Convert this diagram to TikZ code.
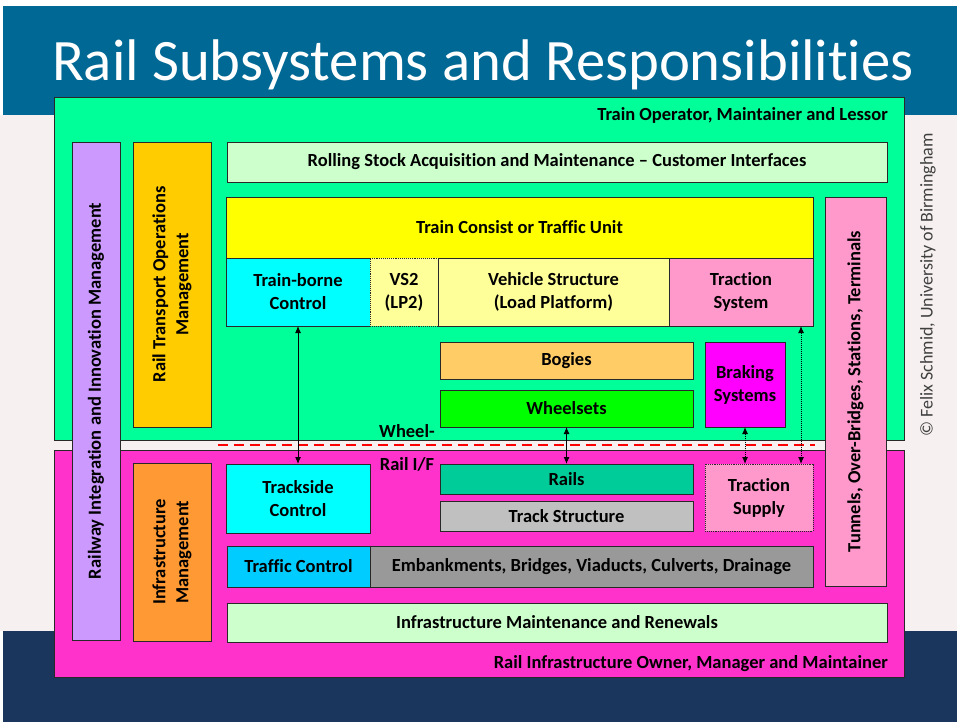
\documentclass[tikz,border=0pt]{standalone}
\usepackage{fontspec}
\setmainfont{Carlito}[Ligatures=NoCommon]
\usetikzlibrary{arrows.meta}
\definecolor{hdrblue}{RGB}{0,104,148}
\definecolor{navy}{RGB}{27,54,93}
\definecolor{bgpale}{RGB}{247,240,240}
\definecolor{opgreen}{RGB}{0,255,153}
\definecolor{infmag}{RGB}{255,51,204}
\definecolor{purp}{RGB}{204,153,255}
\definecolor{gold}{RGB}{255,204,0}
\definecolor{orng}{RGB}{255,153,51}
\definecolor{palegreen}{RGB}{204,255,204}
\definecolor{yel}{RGB}{255,255,0}
\definecolor{cyn}{RGB}{0,255,255}
\definecolor{paleyel}{RGB}{255,255,153}
\definecolor{pnk}{RGB}{255,153,204}
\definecolor{bogie}{RGB}{255,204,102}
\definecolor{brk}{RGB}{255,0,255}
\definecolor{whl}{RGB}{0,255,0}
\definecolor{rail}{RGB}{0,204,153}
\definecolor{trk}{RGB}{192,192,192}
\definecolor{trf}{RGB}{0,204,255}
\definecolor{emb}{RGB}{153,153,153}
\definecolor{edge}{RGB}{40,40,40}
\tikzset{
  box/.style={draw=edge, line width=0.9pt, anchor=north west, inner sep=0pt, outer sep=0pt,
    align=center, font=\fontsize{18.5}{23}\selectfont\bfseries, text=black},
  dotbox/.style={box, densely dotted},
  lbl/.style={font=\fontsize{18.5}{23}\selectfont\bfseries, text=black, inner sep=0pt},
  arr/.style={line width=1pt, {Latex[length=7pt,width=6pt]}-{Latex[length=7pt,width=6pt]}},
  darr/.style={arr, densely dotted}
}
\begin{document}
\begin{tikzpicture}[x=1pt,y=-1pt]
\useasboundingbox (0,0) rectangle (957,722);
% backgrounds
\fill[white] (0,0) rectangle (957,722);
\fill[bgpale] (0,115) rectangle (957,631);
\fill[hdrblue] (3,6) rectangle (957,115);
\fill[navy] (3,631) rectangle (957,722);
\node[text=white, font=\fontsize{58.7}{64}\selectfont, inner sep=0pt] (title) at (483,65) {Rail Subsystems and Responsibilities};
% outer areas
\node[box, fill=opgreen, minimum width=850pt, minimum height=343pt] (op) at (54,97) {};
\node[box, fill=infmag, minimum width=850pt, minimum height=227pt] (inf) at (54,450) {};
\node[lbl, anchor=east] (oplbl) at (888,115) {Train Operator, Maintainer and Lessor};
\node[lbl, anchor=east] (inflbl) at (888,664) {Rail Infrastructure Owner, Manager and Maintainer};
\coordinate (dl) at (218,445);
\coordinate (dr) at (815,445);
\draw[red, line width=1.5pt, dash pattern=on 10pt off 6pt] (dl) -- (dr);
% vertical bars
\node[box, fill=purp, minimum width=48pt, minimum height=498pt] (rim) at (72,142) {};
\node[lbl, rotate=90] (rimt) at (rim.center) {Railway Integration and Innovation Management};
\node[box, fill=gold, minimum width=78pt, minimum height=285pt] (rto) at (133,142) {};
\node[lbl, rotate=90, align=center] (rtot) at (rto.center) {Rail Transport Operations\\Management};
\node[box, fill=orng, minimum width=78pt, minimum height=178pt] (im) at (133,463) {};
\node[lbl, rotate=90, align=center] (imt) at (im.center) {Infrastructure\\Management};
\node[box, fill=pnk, minimum width=61pt, minimum height=389pt] (tun) at (825,197) {};
\node[lbl, rotate=90] (tunt) at (tun.center) {Tunnels, Over-Bridges, Stations, Terminals};
% rolling stock
\node[box, fill=palegreen, minimum width=660pt, minimum height=40pt] (rs) at (227,142) {Rolling Stock Acquisition and Maintenance -- Customer Interfaces};
\node[box, fill=yel, minimum width=587pt, minimum height=61pt] (tc) at (226,197) {Train Consist or Traffic Unit};
\node[box, fill=cyn, minimum width=144pt, minimum height=68pt] (tbc) at (226,258) {Train-borne\\Control};
\node[dotbox, fill=paleyel, minimum width=68pt, minimum height=68pt] (vs2) at (370,258) {VS2\\(LP2)};
\node[box, fill=paleyel, minimum width=231pt, minimum height=68pt] (vs) at (438,258) {Vehicle Structure\\(Load Platform)};
\node[box, fill=pnk, minimum width=144pt, minimum height=68pt] (trs) at (669,258) {Traction\\System};
\node[box, fill=bogie, minimum width=253pt, minimum height=37pt] (bog) at (440,342) {Bogies};
\node[box, fill=brk, minimum width=80pt, minimum height=85pt] (brs) at (705,342) {Braking\\Systems};
\node[box, fill=whl, minimum width=253pt, minimum height=37pt] (whs) at (440,390) {Wheelsets};
\node[lbl] (wtxt) at (407,431) {Wheel-};
\node[lbl] (rtxt) at (407,464) {Rail I/F};
% infrastructure
\node[box, fill=cyn, minimum width=144pt, minimum height=69pt] (tsc) at (226,464) {Trackside\\Control};
\node[box, fill=rail, minimum width=253pt, minimum height=30pt] (rls) at (440,464) {Rails};
\node[box, fill=trk, minimum width=253pt, minimum height=30pt] (tst) at (440,501) {Track Structure};
\node[dotbox, fill=pnk, minimum width=108pt, minimum height=67pt] (tsup) at (705,464) {Traction\\Supply};
\node[box, fill=trf, minimum width=143pt, minimum height=41pt] (tfc) at (227,546) {Traffic Control};
\node[box, fill=emb, minimum width=443pt, minimum height=41pt] (emb) at (370,546) {Embankments, Bridges, Viaducts, Culverts, Drainage};
\node[box, fill=palegreen, minimum width=660pt, minimum height=39pt] (imr) at (227,603) {Infrastructure Maintenance and Renewals};
% connectors
\draw[arr] (tbc.south) -- (tsc.north);
\draw[arr] (whs.south) -- (rls.north);
\draw[darr] (brs.south) -- (brs.south |- tsup.north);
\draw[darr] ([xshift=-12pt]trs.south east) -- ([xshift=-12pt]tsup.north east);
% copyright
\node[rotate=90, text=black!75, font=\fontsize{18}{22}\selectfont, inner sep=0pt] (copy) at (928,285) {© Felix Schmid, University of Birmingham};
\end{tikzpicture}
\end{document}
